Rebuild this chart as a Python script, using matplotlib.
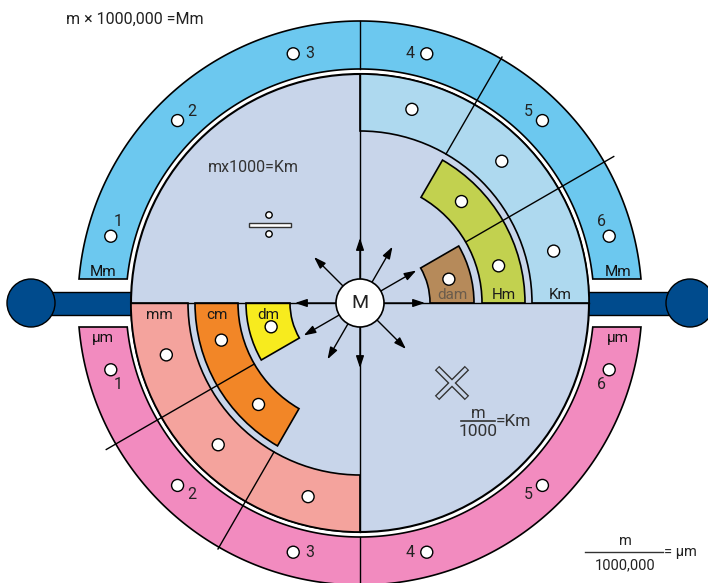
import numpy as np
import matplotlib
matplotlib.use('Agg')
import matplotlib.pyplot as plt
from matplotlib.patches import Wedge, Circle, Polygon, Rectangle

plt.rcParams['font.family'] = ['Roboto', 'DejaVu Sans']

# units of the metric wheel, one ring per unit, each ring spans steps x 30 deg
upper_units = ['dam', 'Hm', 'Km']
lower_units = ['dm', 'cm', 'mm']
unit_steps = [1, 2, 3]
upper_colors = ['#B68A5A', '#C2D14F', '#AED9EF']
lower_colors = ['#F7EB1E', '#F28627', '#F4A39D']
upper_text_colors = ['#6b5c4c', '#1a1a1a', '#1a1a1a']
lower_text_colors = ['#1a1a1a', '#1a1a1a', '#1a1a1a']

band_units = ['Mm', 'µm']
band_colors = ['#6CC8EF', '#F28BBF']
band_numbers = ['1', '2', '3', '4', '5', '6']

arrow_angles = [0, 30, 60, 90, 135, 180, 210, 240, 270, 315]

top_formula = 'm × 1000,000 =Mm'
mult_formula = 'mx1000=Km'
div_num, div_den, div_res = 'm', '1000', '=Km'
big_num, big_den, big_res = 'm', '1000,000', '= µm'

# layout (pixels, centre of the wheel at 0,0)
ring_radii = [(70, 114), (122, 165), (172, 229)]
R_IN, R_BAND0, R_BAND1 = 229, 234, 282
BAND_CUT = 24
DOT_R = 6
TXT = '#222222'

fig = plt.figure(figsize=(7.08, 5.83), dpi=100)
ax = fig.add_axes([0, 0, 1, 1])
ax.set_xlim(-360, 348)
ax.set_ylim(-280, 303)
ax.set_aspect('equal')
ax.axis('off')


def pol(r, a):
    t = np.deg2rad(a)
    return r * np.cos(t), r * np.sin(t)


def dot(x, y, r=DOT_R, z=6):
    ax.add_patch(Circle((x, y), r, facecolor='white', edgecolor='black', lw=1, zorder=z))


# side bar with end knobs
ax.add_patch(Rectangle((-329, -12), 659, 23.5, facecolor='#004B8D', edgecolor='black', lw=1, zorder=1))
for cx in (-329, 330):
    ax.add_patch(Circle((cx, 0), 24, facecolor='#004B8D', edgecolor='black', lw=1, zorder=1))

# outer bands (top and bottom), cut flat above / below the bar
for side, col in zip((1, -1), band_colors):
    t_out = np.arcsin(BAND_CUT / R_BAND1)
    t_in = np.arcsin(BAND_CUT / R_BAND0)
    a = np.linspace(t_out, np.pi - t_out, 200)
    b = np.linspace(np.pi - t_in, t_in, 200)
    xs = np.concatenate([R_BAND1 * np.cos(a), R_BAND0 * np.cos(b)])
    ys = np.concatenate([R_BAND1 * np.sin(a), R_BAND0 * np.sin(b)]) * side
    ax.add_patch(Polygon(np.column_stack([xs, ys]), closed=True, facecolor=col,
                         edgecolor='black', lw=1.2, zorder=2))

# inner disc
ax.add_patch(Circle((0, 0), R_IN, facecolor='#C8D5EA', edgecolor='black', lw=1.5, zorder=2))

# rings
for i, (r0, r1) in enumerate(ring_radii):
    span = unit_steps[i] * 30
    ax.add_patch(Wedge((0, 0), r1, 0, span, width=r1 - r0, facecolor=upper_colors[i],
                       edgecolor='black', lw=1.2, zorder=3))
    ax.add_patch(Wedge((0, 0), r1, 180, 180 + span, width=r1 - r0, facecolor=lower_colors[i],
                       edgecolor='black', lw=1.2, zorder=3))
    rm = (r0 + r1) / 2
    for j in range(unit_steps[i]):
        dot(*pol(rm, 15 + 30 * j))
        dot(*pol(rm, 195 + 30 * j))
    ax.text(rm, 4, upper_units[i], ha='center', va='baseline', fontsize=11,
            color=upper_text_colors[i], zorder=7)
    ax.text(-rm, -16, lower_units[i], ha='center', va='baseline', fontsize=11,
            color=lower_text_colors[i], zorder=7)

# radial dividers: start at the first ring that is split there
div_end = {1: 293, 2: 284}
for k in (1, 2):
    first = min(i for i, s in enumerate(unit_steps) if s > k)
    r0 = ring_radii[first][0]
    for base in (0, 180):
        x0, y0 = pol(r0, base + 30 * k)
        x1, y1 = pol(div_end[k], base + 30 * k)
        ax.plot([x0, x1], [y0, y1], color='black', lw=1, zorder=4)

# cross lines
ax.plot([-R_IN, R_IN], [0, 0], color='black', lw=1, zorder=4)
ax.plot([0, 0], [-R_IN, R_IN], color='black', lw=1, zorder=4)
for side in (1, -1):
    ax.plot([0, 0], [side * R_BAND0, side * R_BAND1], color='black', lw=1, zorder=4)

# band dots, numbers and unit names
R_BM = (R_BAND0 + R_BAND1) / 2
for j, num in enumerate(band_numbers):
    a_up = 165 - 30 * j
    dot(*pol(R_BM, a_up))
    a_lab = a_up + (3.6 if a_up < 90 else -3.6)
    ax.text(*pol(R_BM - 3, a_lab), num, ha='center', va='center', fontsize=11.5,
            color=TXT, zorder=7)
    a_dn = 195 + 30 * j
    dot(*pol(R_BM, a_dn))
    a_lab = a_dn + (3.6 if a_dn < 270 else -3.6)
    ax.text(*pol(R_BM - 3, a_lab), num, ha='center', va='center', fontsize=11.5,
            color=TXT, zorder=7)
for x in (-R_BM + 1, R_BM):
    ax.text(x, 31, band_units[0], ha='center', va='center', fontsize=11, color='#111111', zorder=7)
    ax.text(x, -35, band_units[1], ha='center', va='center', fontsize=11, color='#111111', zorder=7)

# arrows from the centre
for a in arrow_angles:
    ax.annotate('', xy=pol(65, a), xytext=pol(24, a),
                arrowprops=dict(arrowstyle='-|>,head_length=0.6,head_width=0.2', color='black', lw=1,
                                mutation_scale=12, shrinkA=0, shrinkB=0), zorder=5)
ax.add_patch(Circle((0, 0), 24, facecolor='white', edgecolor='black', lw=1.2, zorder=6))
ax.text(0, 0, 'M', ha='center', va='center', fontsize=14, color=TXT, zorder=7)

# divide sign and multiply formula (upper left)
ax.text(-107, 135, mult_formula, ha='center', va='center', fontsize=11.5,
        color='#333333', zorder=7)
ax.add_patch(Rectangle((-111, 76), 42, 4, facecolor='white', edgecolor='#333333', lw=1, zorder=7))
dot(-91, 88, r=3.2, z=7)
dot(-91, 69, r=3.2, z=7)

# multiply sign and divide formula (lower right)
xc, yc, h = 92, -80, 15
for sx in (1, -1):
    ax.plot([xc - h, xc + h], [yc - sx * h, yc + sx * h], color='#333333', lw=4.5,
            solid_capstyle='butt', zorder=7)
for sx in (1, -1):
    ax.plot([xc - h + 0.8, xc + h - 0.8], [yc - sx * (h - 0.8), yc + sx * (h - 0.8)],
            color='#C8D5EA', lw=2.5, solid_capstyle='butt', zorder=7)
ax.text(118, -111, div_num, ha='center', va='center', fontsize=12, color='#333333', zorder=7)
ax.plot([101, 135], [-118, -118], color='#333333', lw=1.2, zorder=7)
ax.text(118, -128, div_den, ha='center', va='center', fontsize=12.5, color='#333333', zorder=7)
ax.text(136, -118, div_res, ha='left', va='center', fontsize=12.5, color='#333333', zorder=7)

# corner formulas
ax.text(-225, 284, top_formula, ha='center', va='center', fontsize=11.5, color=TXT)
ax.text(265, -238, big_num, ha='center', va='center', fontsize=10.5, color=TXT)
ax.plot([225, 303], [-249, -249], color='#333333', lw=1)
ax.text(265, -262, big_den, ha='center', va='center', fontsize=10.5, color=TXT)
ax.text(304, -249, big_res, ha='left', va='center', fontsize=10.5, color=TXT)

fig.savefig('out.png', dpi=100)
